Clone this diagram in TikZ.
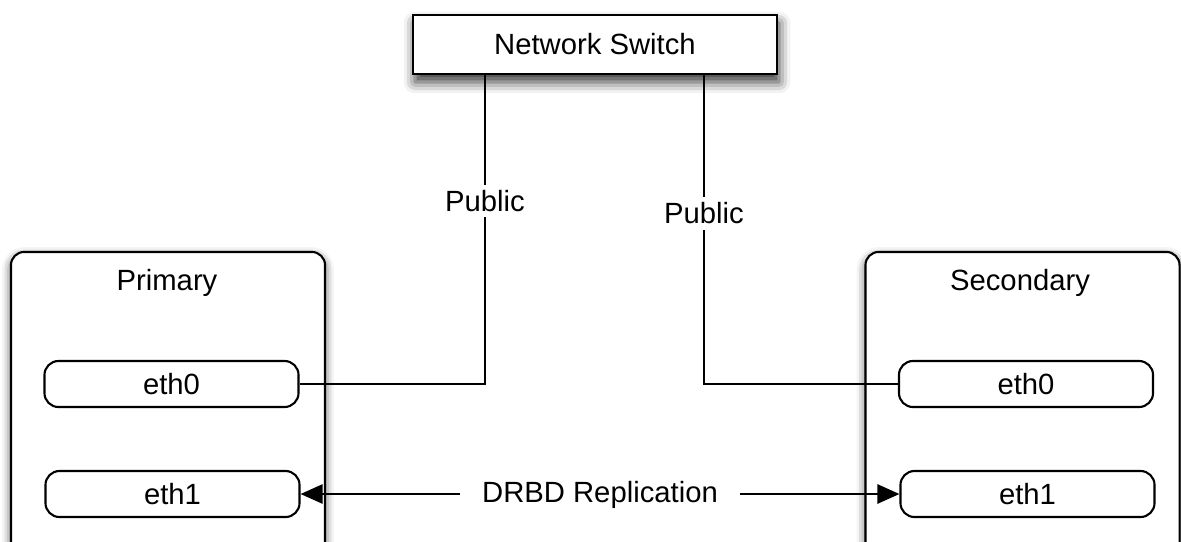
\documentclass[tikz,border=0pt]{standalone}
\usepackage{fontspec}
\setmainfont{Liberation Sans}
\usetikzlibrary{positioning,arrows.meta,shadows.blur}

\begin{document}
\begin{tikzpicture}[
    x=0.025cm, y=-0.025cm,
    txt/.style={font=\fontsize{20.8}{25}\selectfont},
    switchbox/.style={rectangle, draw, line width=1.9pt, fill=white, minimum width=9.1cm, minimum height=1.475cm, txt,
        blur shadow={shadow xshift=0.05cm, shadow yshift=-0.2cm, shadow blur radius=0.28cm, shadow opacity=80}},
    host/.style={rectangle, draw, line width=1.5pt, fill=white, rounded corners=0.33cm, minimum width=7.85cm, minimum height=7.95cm,
        blur shadow={shadow xshift=0cm, shadow yshift=-0.1cm, shadow blur radius=0.22cm, shadow opacity=70}},
    iface/.style={rectangle, draw, line width=1.5pt, fill=white, rounded corners=0.35cm, minimum width=6.35cm, minimum height=1.15cm, txt},
    link/.style={line width=1.5pt},
    tag/.style={fill=white, inner xsep=2pt, inner ysep=4pt, txt}
]
\useasboundingbox (0,0) rectangle (1181,541);
\clip (0,0) rectangle (1181,541);

\node[switchbox] (switch) at (595,44.5) {Network Switch};

\node[host] (primary) at (168,411) {};
\node[host] (secondary) at (1022.5,411) {};
\node[txt, anchor=base] (primarytitle) at (167,290) {Primary};
\node[txt, anchor=base] (secondarytitle) at (1020,290) {Secondary};

\node[iface] (peth0) at (171.5,384) {eth0};
\node[iface] (peth1) at (172.5,494) {eth1};
\node[iface] (seth0) at (1026,384) {eth0};
\node[iface] (seth1) at (1027.5,494) {eth1};

\coordinate (tapleft) at (485,74);
\coordinate (tapright) at (704,74);

\draw[link] (tapleft) |- node[tag, pos=0.205] {Public} (peth0.east);
\draw[link] (tapright) |- node[tag, pos=0.225] {Public} (seth0.west);

\draw[link, <->, >={Triangle[length=0.55cm, width=0.48cm]}] (peth1.east) -- node[tag, inner xsep=0.55cm, yshift=-1pt] {DRBD Replication} (seth1.west);
\end{tikzpicture}
\end{document}
